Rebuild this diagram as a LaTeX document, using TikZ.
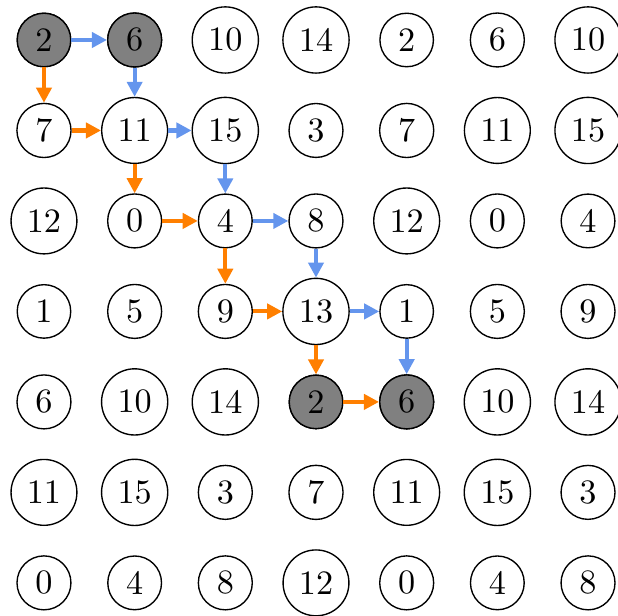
\documentclass[tikz,border=0pt]{standalone}
\usepackage{tikz}
\usetikzlibrary{arrows.meta}
\definecolor{pathblue}{RGB}{100,149,237}
\definecolor{pathorange}{RGB}{255,127,0}

\begin{document}
\begin{tikzpicture}[
    cell/.style={circle, draw, inner sep=2.6pt},
    endcell/.style={cell, fill=gray},
    bluearr/.style={-{Triangle[length=4.4pt, width=4.4pt]}, line width=1.2pt, pathblue},
    orangearr/.style={-{Triangle[length=4.4pt, width=4.4pt]}, line width=1.2pt, pathorange}
]
\useasboundingbox (-0.452,0.411) rectangle (5.90,-5.92);

% grid of values (2+5i+4j) mod 16
\foreach \i in {0,...,6} {
  \foreach \j in {0,...,6} {
    \pgfmathtruncatemacro{\val}{mod(2+5*\i+4*\j,16)}
    \node[cell] (n-\i-\j) at (0.932*\j, -0.93*\i) {\val};
  }
}
% start and end cells
\foreach \i/\j in {0/0, 0/1, 4/3, 4/4}
  \node[endcell] at (n-\i-\j) {\pgfmathtruncatemacro{\val}{mod(2+5*\i+4*\j,16)}\val};

% blue path
\foreach \a/\b in {0-0/0-1, 0-1/1-1, 1-1/1-2, 1-2/2-2, 2-2/2-3, 2-3/3-3, 3-3/3-4, 3-4/4-4}
  \draw[bluearr] (n-\a) -- (n-\b);

% orange path
\foreach \a/\b in {0-0/1-0, 1-0/1-1, 1-1/2-1, 2-1/2-2, 2-2/3-2, 3-2/3-3, 3-3/4-3, 4-3/4-4}
  \draw[orangearr] (n-\a) -- (n-\b);

\end{tikzpicture}
\end{document}
